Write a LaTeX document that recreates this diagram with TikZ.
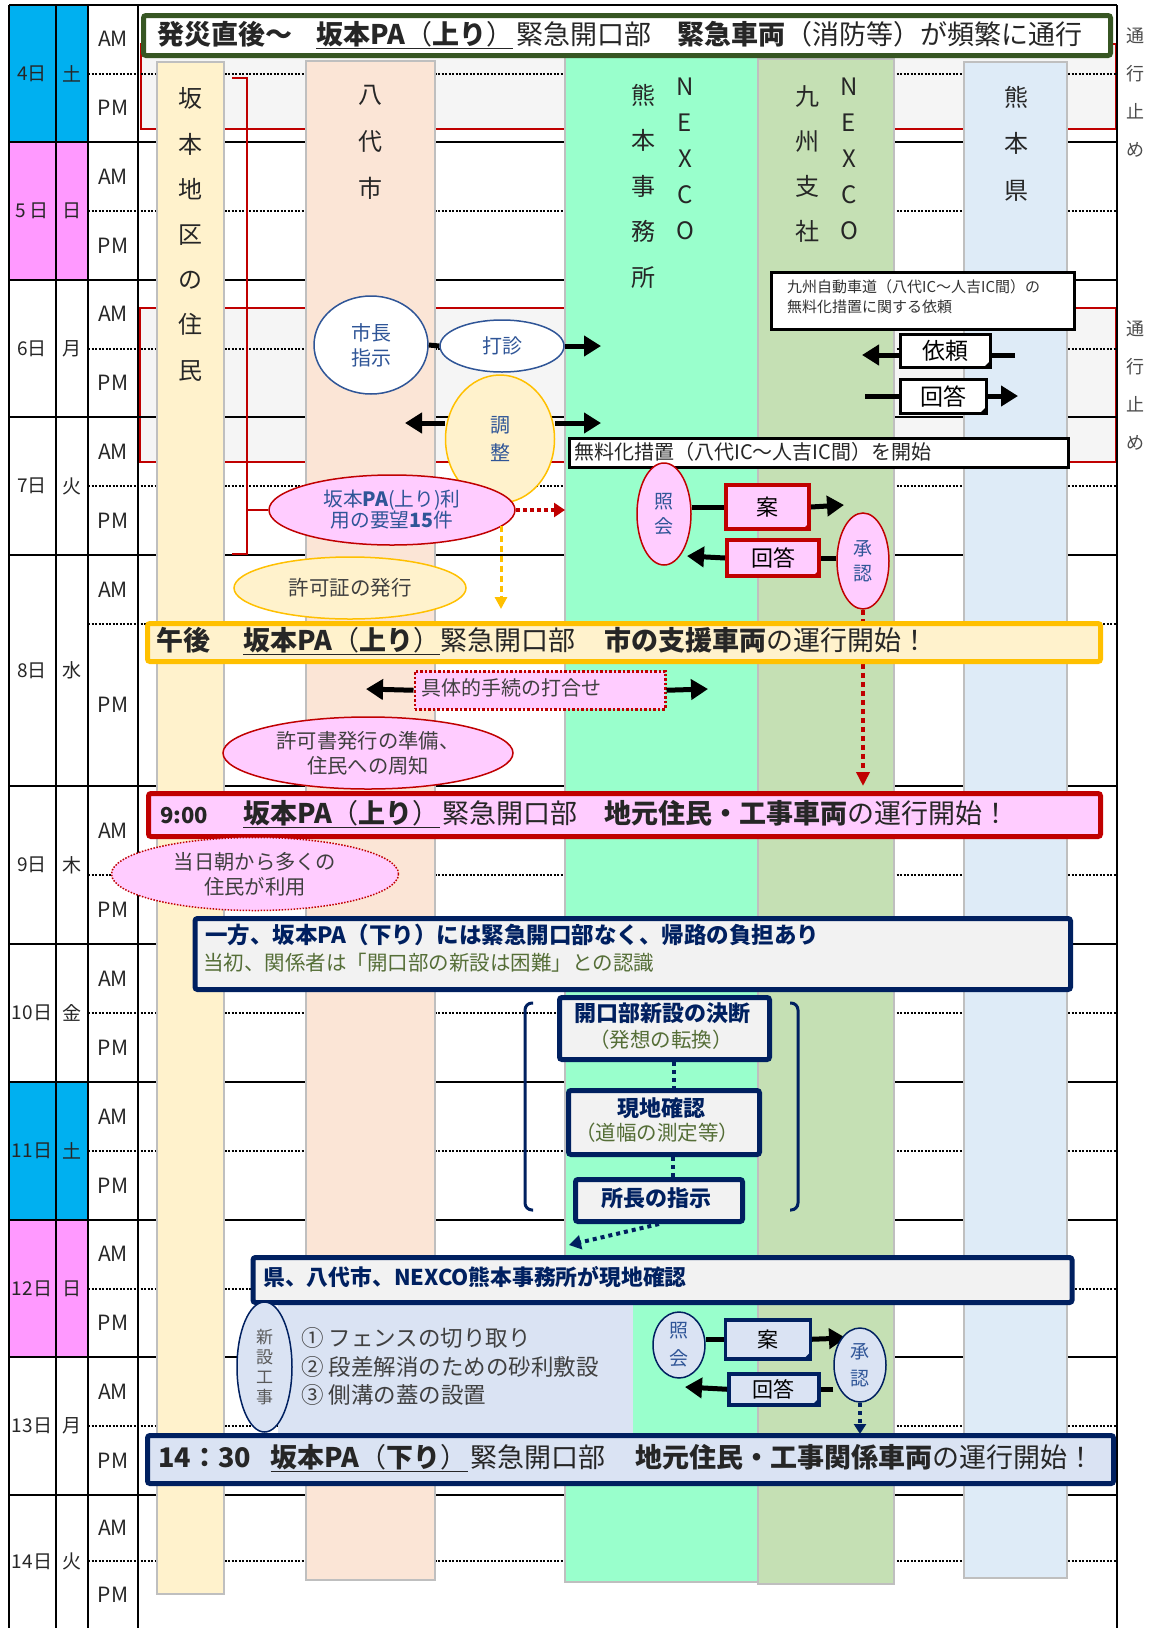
\documentclass[tikz,border=0pt]{standalone}
\usepackage{fontspec}
\setmainfont{Noto Sans CJK JP}
\usetikzlibrary{arrows.meta,shapes.geometric}
\definecolor{cyanD}{HTML}{00B0F0}
\definecolor{pinkD}{HTML}{FF99FF}
\definecolor{laneA}{HTML}{FFF2CC}
\definecolor{laneB}{HTML}{FBE5D6}
\definecolor{laneC}{HTML}{99FFCC}
\definecolor{laneD}{HTML}{C5E0B4}
\definecolor{laneE}{HTML}{DEEBF7}
\definecolor{redD}{HTML}{C00000}
\definecolor{pinkF}{HTML}{FFCCFF}
\definecolor{navy}{HTML}{002060}
\definecolor{blueT}{HTML}{2F5597}
\definecolor{gold}{HTML}{FFC000}
\definecolor{greenB}{HTML}{375623}
\definecolor{olive}{RGB}{85,110,55}
\definecolor{grayF}{HTML}{F2F2F2}
\definecolor{grayR}{HTML}{F5F5F5}
\definecolor{lblue}{HTML}{DAE3F3}
\newcommand\fs[2]{\fontsize{#1}{#2}\selectfont}
\newcommand\dogear[2]{%
  \fill[#2] ([xshift=-10pt]#1.south east) -- ([yshift=10pt]#1.south east) -- ([xshift=-2pt,yshift=2pt]#1.south east) -- cycle;}
\tikzset{
  rbox/.style={rectangle, anchor=north west, inner sep=0pt},
  banner/.style={rbox, line width=5pt, rounded corners=2.5pt},
  ellip/.style={ellipse, inner sep=0pt, line width=1.5pt, align=center},
  pinkell/.style={ellip, fill=pinkF, draw=redD, text=blueT},
  blueell/.style={ellip, fill=lblue, draw=navy, text=blueT},
  pinkbox/.style={rbox, draw=redD, fill=pinkF, line width=4pt},
  bluebox/.style={rbox, draw=navy, fill=lblue, line width=3.5pt},
  whitebox/.style={rbox, draw=black, fill=white, line width=3pt},
  blk/.style={draw=black, line width=5pt},
  blkarr/.style={blk, -{Triangle[length=17pt,width=20pt]}},
  reddot/.style={draw=redD, line width=4pt, dash pattern=on 4pt off 3pt, -{Triangle[length=11pt,width=14pt]}},
  reddotv/.style={draw=redD, line width=3.5pt, dash pattern=on 5pt off 4pt, -{Triangle[length=14pt,width=13pt]}},
  golddash/.style={draw=gold, line width=3pt, dash pattern=on 6pt off 4pt, -{Triangle[length=12pt,width=12pt]}},
  navydot/.style={draw=navy, line width=4pt, dash pattern=on 4pt off 4pt},
  gridSolid/.style={draw=black, line width=2.5pt},
  gridDot/.style={draw=black, line width=2pt, dash pattern=on 2pt off 1.5pt},
  lanebox/.style={draw=black!25, line width=1.5pt},
  vtext/.style={align=center, inner sep=0pt, text=black!85},
  lbl/.style={inner sep=0pt, text=black!85},
  ttxt/.style={inner sep=0pt, text=black!85},
}
\begin{document}
\begin{tikzpicture}[x=1pt,y=-1pt]
\useasboundingbox (0,0) rectangle (1150,1628);
\fill[white] (0,0) rectangle (1150,1628);
% date column fills
\fill[cyanD] (9,5) rectangle (88,142);
\fill[pinkD] (9,142) rectangle (88,280);
\fill[cyanD] (9,1082) rectangle (88,1220);
\fill[pinkD] (9,1220) rectangle (88,1357);
% closure areas
\draw[redD, line width=1.5pt, fill=grayR] (141,44) rectangle (1116,129);
\draw[redD, line width=1.5pt, fill=grayR] (140,308) rectangle (1116,462);
% grid
\foreach \y in {73.5,211,348.5,486,624,875,1013,1151,1288.5,1426,1561}
  \draw[gridDot] (88,\y) -- (1117,\y);
\foreach \y in {5,142,280,417,555,786,944,1082,1220,1357,1495}
  \draw[gridSolid] (9,\y) -- (1117,\y);
\foreach \x in {9,56,88,138,1117}
  \draw[gridSolid] (\x,5) -- (\x,1628);
% labels
\foreach \dlab/\wlab/\ya/\ym/\yb [count=\i] in {4日/土/5/73.5/142, 5 日/日/142/211/280, 6日/月/280/348.5/417, 7日/火/417/486/555, 8日/水/555/624/786, 9日/木/786/875/944, 10日/金/944/1013/1082, 11日/土/1082/1151/1220, 12日/日/1220/1288.5/1357, 13日/月/1357/1426/1495, 14日/火/1495/1561/1628}{
  \pgfmathsetmacro\yc{(\ya+\yb)/2}
  \pgfmathsetmacro\yam{(\ya+\ym)/2}
  \pgfmathsetmacro\ypm{(\ym+\yb)/2}
  \node[lbl, font=\fs{19}{22}] (day\i) at (32,\yc) {\dlab};
  \node[lbl, font=\fs{19}{22}] (wday\i) at (72,\yc) {\wlab};
  \node[lbl, font=\fs{21}{24}] (am\i) at (113,\yam) {AM};
  \node[lbl, font=\fs{21}{24}] (pm\i) at (113,\ypm) {PM};
}
% lanes
\draw[lanebox, fill=laneA] (157,62) rectangle (224,1594);
\draw[lanebox, fill=laneB] (306,61) rectangle (435,1580);
\draw[lanebox, fill=laneC] (565,57) rectangle (758,1582);
\draw[lanebox, fill=laneD] (758,59) rectangle (894,1584);
\draw[lanebox, fill=laneE] (964,62) rectangle (1067,1578);
\node[vtext, font=\fs{24}{45.2}] (laneAT) at (190.5,234.5) {坂\\本\\地\\区\\の\\住\\民};
\node[vtext, font=\fs{24}{47}] (laneBT) at (370.5,142) {八\\代\\市};
\node[vtext, font=\fs{24}{45.5}] (laneCT) at (643,186) {熊\\本\\事\\務\\所};
\node[vtext, font=\fs{24}{36}] (laneCN) at (685,159) {N\\E\\X\\C\\O};
\node[vtext, font=\fs{24}{45}] (laneDT) at (807,164.5) {九\\州\\支\\社};
\node[vtext, font=\fs{24}{36}] (laneDN) at (849,159) {N\\E\\X\\C\\O};
\node[vtext, font=\fs{24}{46.5}] (laneET) at (1016,143.5) {熊\\本\\県};
% closure labels
\node[vtext, text=black!70, font=\fs{18}{37.7}] (closedA) at (1135,92.5) {通\\行\\止\\め};
\node[vtext, text=black!70, font=\fs{18}{38}] (closedB) at (1135,386) {通\\行\\止\\め};
% green banner
\node[banner, draw=greenB, fill=white, minimum width=967pt, minimum height=40pt] (gbanner) at (141,13) {};
\node[ttxt, anchor=base west, font=\fs{27}{30}] (gtext) at (157,44) {{\bfseries 発災直後～}\hspace{24pt}\underline{{\bfseries 坂本PA}（{\bfseries 上り}）}\hspace{3pt}緊急開口部\hspace{26pt}{\bfseries 緊急車両}（消防等）が頻繁に通行};
% request box
\node[whitebox, minimum width=303pt, minimum height=57pt] (req) at (770,271) {};
\node[ttxt, anchor=west, align=left, text=black!80, font=\fs{15}{20}] (reqT) at (787,297) {九州自動車道（八代IC～人吉IC間）の\\無料化措置に関する依頼};
% mayor / dashin
\node[ellip, draw=blueT, fill=white, text=blueT, minimum width=114pt, minimum height=98pt, font=\fs{20}{25}] (mayor) at (371,345) {市長\\指示};
\node[ellip, draw=blueT, fill=white, text=blueT, minimum width=124pt, minimum height=52pt, font=\fs{20}{24}] (dashin) at (502,346) {打診};
\draw[blk] (mayor.east) -- (dashin.west);
\coordinate (dashinTip) at (601,346);
\draw[blkarr] (dashin.east) -- (dashinTip);
% irai / kaitou
\node[whitebox, minimum width=90pt, minimum height=33pt, font=\fs{23}{26}] (irai) at (899,333) {依頼};
\dogear{irai}{black}
\coordinate (iraiR) at (1015,355);
\coordinate (iraiL) at (862,355);
\draw[blk] (iraiR) -- (iraiR -| irai.east);
\draw[blkarr] (irai.west |- iraiL) -- (iraiL);
\node[whitebox, minimum width=86pt, minimum height=34pt, font=\fs{23}{26}] (kaitouA) at (899,378) {回答};
\dogear{kaitouA}{black}
\coordinate (kaiAL) at (865,396);
\coordinate (kaiAR) at (1018,396);
\draw[blk] (kaiAL) -- (kaiAL -| kaitouA.west);
\draw[blkarr] (kaitouA.east |- kaiAR) -- (kaiAR);
% chosei
\node[ellip, draw=gold, fill=laneA, text=blueT, minimum width=109pt, minimum height=128pt, font=\fs{20}{28}] (chosei) at (500,439) {調\\整};
\coordinate (choL) at (405,423);
\coordinate (choR) at (601,423);
\draw[blkarr] ([yshift=16pt]chosei.west) -- (choL);
\draw[blkarr] ([yshift=16pt]chosei.east) -- (choR);
% free-of-charge box
\node[whitebox, minimum width=499pt, minimum height=29pt] (free) at (568,437) {};
\node[ttxt, anchor=west, font=\fs{20}{22}] (freeT) at (574,451.5) {無料化措置（八代IC～人吉IC間）を開始};
% requests ellipse and bracket
\node[pinkell, minimum width=246pt, minimum height=70pt, font=\fs{19.7}{21}] (youbou) at (392,510) {坂本{\bfseries PA}(上り)利\\用の要望{\bfseries 15}件};
\coordinate (brT) at (232,78);
\coordinate (brB) at (232,554);
\draw[redD, line width=1.5pt] (brT) -- (247,78) -- (247,554) -- (brB);
\draw[redD, line width=1.5pt] (247,510) -- (youbou.west);
\coordinate (ydTip) at (565,510);
\draw[reddot] (youbou.east) -- (ydTip);
\coordinate (ykTip) at (501,609);
\draw[golddash] (youbou.-8.5 -| ykTip) -- (ykTip);
% inquiry 1
\node[pinkell, minimum width=54pt, minimum height=102pt, font=\fs{19}{25}] (shokaiA) at (664,514) {照\\会};
\node[pinkbox, minimum width=83.5pt, minimum height=44pt, font=\fs{22}{24}] (anA) at (723.5,483) {案};
\dogear{anA}{redD}
\draw[blk] (shokaiA.east |- anA.west) -- (anA.west);
\coordinate (anATip) at (844,505);
\draw[blkarr] (anA.east) -- (anATip);
\node[pinkell, minimum width=52pt, minimum height=96pt, font=\fs{19}{25}] (shoninA) at (863,561) {承\\認};
\node[pinkbox, minimum width=92pt, minimum height=36pt, font=\fs{22}{24}] (kaitouB) at (725,538) {回答};
\dogear{kaitouB}{redD}
\draw[blk] (shoninA.west |- kaitouB.east) -- (kaitouB.east);
\coordinate (kaiBTip) at (687,556);
\draw[blkarr] (kaitouB.west) -- (kaiBTip);
\coordinate (snTip) at (863,786);
\draw[reddotv] (shoninA.south) -- (snTip);
% permit
\node[ellip, draw=gold, fill=laneA, text=black!75, minimum width=232pt, minimum height=62pt, font=\fs{20.5}{22}] (kyoka) at (350,588) {許可証の発行};
% yellow banner
\node[banner, draw=gold, fill=laneA, minimum width=953pt, minimum height=38pt] (ybanner) at (145,621) {};
\node[ttxt, anchor=base west, font=\fs{27}{30}] (ytext) at (156,650) {{\bfseries 午後}\hspace{33pt}\underline{{\bfseries 坂本PA}（{\bfseries 上り}）}緊急開口部\hspace{29pt}{\bfseries 市の支援車両}の運行開始！};
% detail procedure
\node[rbox, draw=redD, fill=pinkF, line width=2.5pt, dash pattern=on 2.5pt off 2pt, minimum width=250.5pt, minimum height=38pt] (gutai) at (413.5,670) {};
\node[ttxt, anchor=west, font=\fs{20}{22}, text=black!75] (gutaiT) at (421,688) {具体的手続の打合せ};
\coordinate (gutaiL) at (366,689);
\coordinate (gutaiR) at (708,689);
\draw[blkarr] (gutai.west) -- (gutaiL);
\draw[blkarr] (gutai.east) -- (gutaiR);
\node[pinkell, text=black!75, minimum width=290pt, minimum height=72pt, font=\fs{20.3}{25}] (junbi) at (368,753) {許可書発行の準備、\\住民への周知};
% red banner
\node[banner, draw=redD, fill=pinkF, minimum width=952pt, minimum height=43pt] (rbanner) at (146,791) {};
\node[ttxt, anchor=base west, font=\fs{27}{30}] (rtext) at (160,823) {{\fs{22}{24}\bfseries 9:00}\hspace{35pt}\underline{{\bfseries 坂本PA}（{\bfseries 上り}）}\hspace{3pt}緊急開口部\hspace{27pt}{\bfseries 地元住民・工事車両}の運行開始！};
\node[ellip, draw=redD, line width=1.5pt, dash pattern=on 1.5pt off 1.5pt, fill=pinkF, text=black!75, minimum width=287pt, minimum height=73pt, font=\fs{20.3}{25}] (tojitsu) at (255,874) {当日朝から多くの\\住民が利用};
% navy info box
\node[banner, draw=navy, fill=grayF, minimum width=875.5pt, minimum height=71pt] (nbox) at (192.5,916) {};
\node[ttxt, anchor=west, font=\fs{22.5}{24}\bfseries, text=navy] (nboxA) at (205,935) {一方、坂本PA（下り）には緊急開口部なく、帰路の負担あり};
\node[ttxt, anchor=west, font=\fs{20.5}{22}, text=olive] (nboxB) at (203,963) {当初、関係者は「開口部の新設は困難」との認識};
% decision chain
\draw[navy, line width=3pt, rounded corners=7pt] (533,1003) -- (525,1003) -- (525,1210) -- (533,1210);
\draw[navy, line width=3pt, rounded corners=7pt] (790,1003) -- (798,1003) -- (798,1210) -- (790,1210);
\node[banner, draw=navy, fill=grayF, minimum width=210pt, minimum height=62pt] (kettei) at (557,995) {};
\node[ttxt, font=\fs{22}{24}\bfseries, text=navy] (ketteiA) at (662,1013) {開口部新設の決断};
\node[ttxt, font=\fs{20.5}{22}, text=olive] (ketteiB) at (661,1040) {（発想の転換）};
\node[banner, draw=navy, fill=grayF, minimum width=191pt, minimum height=64pt] (genchi) at (566,1088) {};
\node[ttxt, font=\fs{22}{24}\bfseries, text=navy] (genchiA) at (661.5,1108) {現地確認};
\node[ttxt, font=\fs{20.5}{22}, text=olive] (genchiB) at (657,1133) {（道幅の測定等）};
\node[banner, draw=navy, fill=grayF, minimum width=167pt, minimum height=42pt] (shocho) at (573,1177) {};
\node[ttxt, font=\fs{22}{24}\bfseries, text=navy] (shochoA) at (656.5,1198) {所長の指示};
\draw[navydot] ([xshift=9pt]kettei.south) -- ([xshift=9pt]kettei.south |- genchi.north);
\draw[navydot] ([xshift=9pt]genchi.south) -- ([xshift=9pt]genchi.south |- shocho.north);
\coordinate (shoTip) at (569,1245);
\draw[navydot, -{Triangle[length=12pt,width=14pt]}] (shocho.south) -- (shoTip);
% construction area
\fill[lblue] (278,1299) rectangle (633,1437);
\node[banner, draw=navy, fill=grayF, minimum width=819pt, minimum height=45pt] (ken) at (250.5,1255) {};
\node[ttxt, anchor=west, font=\fs{21.8}{24}\bfseries, text=navy] (kenT) at (263,1277) {県、八代市、NEXCO熊本事務所が現地確認};
\node[blueell, text=black!65, minimum width=55pt, minimum height=130pt, font=\fs{17}{20}] (shinsetsu) at (264.5,1367) {新\\設\\工\\事};
\node[ttxt, anchor=west, font=\fs{22.5}{24}, text=black!75] (itemA) at (301,1338) {① フェンスの切り取り};
\node[ttxt, anchor=west, font=\fs{22.5}{24}, text=black!75] (itemB) at (301,1367) {② 段差解消のための砂利敷設};
\node[ttxt, anchor=west, font=\fs{22.5}{24}, text=black!75] (itemC) at (301,1395) {③ 側溝の蓋の設置};
% inquiry 2
\node[blueell, minimum width=52pt, minimum height=66pt, font=\fs{19}{28}] (shokaiB) at (679,1345) {照\\会};
\node[bluebox, minimum width=85pt, minimum height=39pt, font=\fs{21}{24}] (anB) at (723.5,1318) {案};
\dogear{anB}{navy}
\draw[blk] (shokaiB.east |- anB.west) -- (anB.west);
\coordinate (anBTip) at (846,1338);
\draw[blkarr] (anB.east) -- (anBTip);
\node[blueell, minimum width=52pt, minimum height=74pt, font=\fs{19}{27}] (shoninB) at (860,1365) {承\\認};
\node[bluebox, minimum width=90pt, minimum height=31pt, font=\fs{21}{24}] (kaitouC) at (727,1372) {回答};
\dogear{kaitouC}{navy}
\draw[blk] (shoninB.west |- kaitouC.east) -- (kaitouC.east);
\coordinate (kaiCTip) at (685,1387);
\draw[blkarr] (kaitouC.west) -- (kaiCTip);
\coordinate (snBTip) at (860,1434);
\draw[navydot, -{Triangle[length=10pt,width=12pt]}] (shoninB.south) -- (snBTip);
% 14:30 banner
\node[banner, draw=navy, fill=lblue, minimum width=966pt, minimum height=48pt] (bbanner) at (145,1433) {};
\node[ttxt, anchor=base west, font=\fs{27}{30}] (btext) at (158,1467.5) {{\bfseries 14：30}\hspace{20pt}\underline{{\bfseries 坂本PA}（{\bfseries 下り}）}\hspace{3pt}緊急開口部\hspace{30pt}{\bfseries 地元住民・工事関係車両}の運行開始！};
\end{tikzpicture}
\end{document}
